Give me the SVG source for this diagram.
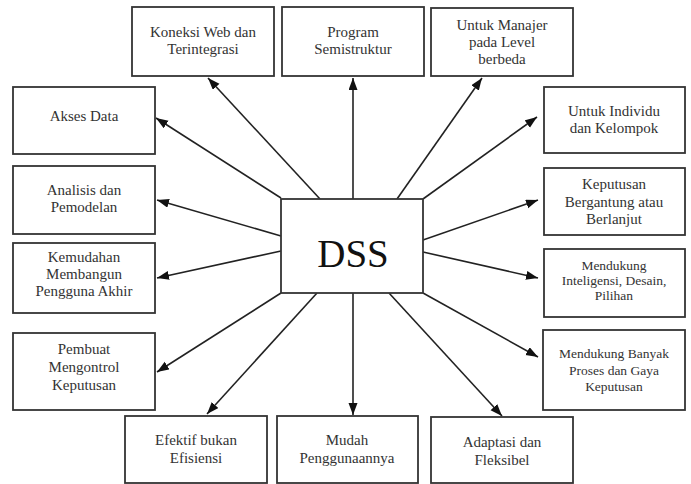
<svg xmlns="http://www.w3.org/2000/svg" width="691" height="484" viewBox="0 0 691 484">
<defs>
<marker id="ah" markerUnits="userSpaceOnUse" markerWidth="13" markerHeight="10" refX="12" refY="4.5" orient="auto">
<path d="M0,0 L12,4.5 L0,9 z" fill="#111"/>
</marker>
<style>
rect{fill:#fff;stroke:#333;stroke-width:1.8}
text{font-family:"Liberation Serif","DejaVu Serif",serif;font-size:15px;fill:#333;text-anchor:middle}
.s{font-size:13.5px}
#connectors line{stroke:#222;stroke-width:1.6;marker-end:url(#ah)}
</style>
</defs>
<rect x="0" y="0" width="691" height="484" style="fill:#fff;stroke:none"/>
<g id="connectors">
<line x1="320" y1="199" x2="208" y2="78"/>
<line x1="353" y1="199" x2="353" y2="78"/>
<line x1="397" y1="199" x2="482" y2="78"/>
<line x1="423" y1="199" x2="537" y2="117"/>
<line x1="281" y1="198" x2="156" y2="118"/>
<line x1="281" y1="236" x2="157" y2="200"/>
<line x1="281" y1="251" x2="157" y2="278"/>
<line x1="281" y1="293" x2="157" y2="372"/>
<line x1="317" y1="293" x2="207" y2="414"/>
<line x1="353" y1="293" x2="353" y2="415"/>
<line x1="389" y1="293" x2="502" y2="416"/>
<line x1="423" y1="293" x2="538" y2="357"/>
<line x1="423" y1="240" x2="538" y2="200"/>
<line x1="423" y1="252" x2="538" y2="278"/>
</g>
<g id="dss"><rect x="281" y="199" width="142" height="94"/><text x="353" y="267" style="font-size:39px;fill:#111">DSS</text></g>
<g id="koneksi"><rect x="132" y="7" width="142" height="69"/><text x="203" y="37">Koneksi Web dan</text><text x="203" y="54">Terintegrasi</text></g>
<g id="program"><rect x="282" y="7" width="142" height="69"/><text x="353" y="37">Program</text><text x="353" y="54">Semistruktur</text></g>
<g id="manajer"><rect x="431" y="8" width="142" height="68"/><text x="502" y="30">Untuk Manajer</text><text x="502" y="47">pada Level</text><text x="502" y="64">berbeda</text></g>
<g id="akses"><rect x="13" y="87" width="142" height="67"/><text x="84" y="121">Akses Data</text></g>
<g id="individu"><rect x="544" y="87" width="141" height="66"/><text x="614" y="116">Untuk Individu</text><text x="614" y="133">dan Kelompok</text></g>
<g id="analisis"><rect x="13" y="166" width="142" height="68"/><text x="84" y="195">Analisis dan</text><text x="84" y="212">Pemodelan</text></g>
<g id="kemudahan"><rect x="13" y="243" width="142" height="70"/><text x="84" y="262">Kemudahan</text><text x="84" y="279">Membangun</text><text x="84" y="296">Pengguna Akhir</text></g>
<g id="bergantung"><rect x="544" y="168" width="141" height="67"/><text x="614" y="189">Keputusan</text><text x="614" y="207">Bergantung atau</text><text x="614" y="224">Berlanjut</text></g>
<g id="inteligensi"><rect x="544" y="249" width="141" height="68"/><text class="s" x="614" y="270">Mendukung</text><text class="s" x="614" y="285">Inteligensi, Desain,</text><text class="s" x="614" y="300">Pilihan</text></g>
<g id="pembuat"><rect x="13" y="333" width="142" height="77"/><text x="84" y="354">Pembuat</text><text x="84" y="372">Mengontrol</text><text x="84" y="390">Keputusan</text></g>
<g id="banyak"><rect x="543" y="330" width="142" height="80"/><text class="s" x="614" y="358">Mendukung Banyak</text><text class="s" x="614" y="375">Proses dan Gaya</text><text class="s" x="614" y="391">Keputusan</text></g>
<g id="efektif"><rect x="125" y="416" width="142" height="67"/><text x="196" y="445">Efektif bukan</text><text x="196" y="463">Efisiensi</text></g>
<g id="mudah"><rect x="277" y="416" width="141" height="67"/><text x="347" y="445">Mudah</text><text x="347" y="463">Penggunaannya</text></g>
<g id="adaptasi"><rect x="431" y="417" width="142" height="66"/><text x="502" y="447">Adaptasi dan</text><text x="502" y="465">Fleksibel</text></g>
</svg>
